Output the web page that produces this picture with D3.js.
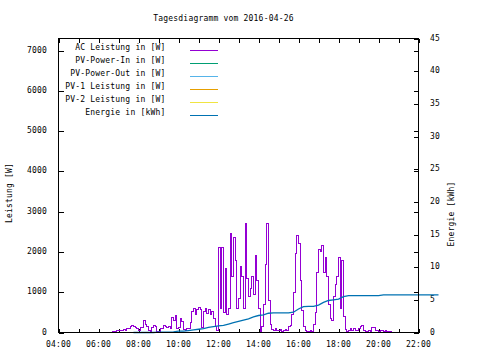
<!DOCTYPE html>
<html>
<head>
<meta charset="utf-8">
<script src="https://cdn.jsdelivr.net/npm/d3@7"></script>
<style>
  body { margin: 0; background: #fff; }
  text { font-family: "DejaVu Sans Mono", monospace; font-size: 8px; letter-spacing: 0.2px; fill: #000; }
</style>
</head>
<body>
<div id="chart"></div>
<script>
// Tagesdiagramm - AC Leistung (5 min) und Energie (15 min)

const title = "Tagesdiagramm vom 2016-04-26";

// AC Leistung in W, alle 5 Minuten ab 06:40
const acStart = "06:40";
const acPower = [
  20, 30, 20, 40,
  50, 40, 60, 70, 60, 100, 110, 160, 170, 150, 120, 110,
  40, 130, 120, 290, 200, 150, 40, 20, 120, 180, 150, 30,
  20, 90, 100, 170, 150, 120, 140, 100, 380, 300, 430, 100,
  120, 350, 280, 80, 60, 110, 90, 240, 520, 600, 450, 580,
  620, 580, 130, 520, 600, 480, 580, 450, 520, 350, 150, 40,
  2100, 600, 2100, 500, 1600, 450, 600, 2450, 1400, 2350, 1800, 600,
  850, 1650, 1400, 600, 2700, 1350, 900, 1100, 1400, 950, 1900, 1300,
  600, 20, 150, 700, 1700, 2700, 800, 200, 80, 60, 100, 50,
  40, 70, 20, 40, 80, 60, 150, 180, 450, 1000, 1950, 2400,
  2200, 1300, 550, 150, 40, 30, 20, 50, 30, 200, 500, 1500,
  2050, 2000, 2150, 1500, 1850, 1400, 700, 350, 300, 900, 1200, 1400,
  1850, 600, 1800, 400, 80, 20, 60, 90, 60, 110, 60, 40,
  100, 160, 180, 60, 30, 20, 40, 30, 130, 120, 40, 50,
  30, 40, 50, 30, 40, 30, 20, 20, 0
];

// Energie in kWh, alle 15 Minuten ab 07:45
const energyStart = "07:45";
const energy = [
  0,
  0, 0, 0, 0,
  0.05, 0.05, 0.05, 0.1,
  0.2, 0.2, 0.3, 0.4,
  0.5, 0.6, 0.8, 0.9,
  1.0, 1.1, 1.3, 1.5,
  1.7, 1.9, 2.1, 2.4,
  2.6, 2.7, 2.95, 3.0,
  3.0, 3.0, 3.0, 3.1,
  3.6, 3.95, 4.0, 4.0,
  4.2, 4.6, 4.9, 5.0,
  5.1, 5.5, 5.65, 5.65,
  5.65, 5.65, 5.65, 5.65,
  5.65, 5.75, 5.75, 5.75,
  5.75, 5.75, 5.75, 5.75,
  5.75, 5.75, 5.75, 5.75,
  5.75
];

const legendLabels = [
  "AC Leistung in [W]",
  "PV-Power-In in [W]",
  "PV-Power-Out in [W]",
  "PV-1 Leistung in [W]",
  "PV-2 Leistung in [W]",
  "Energie in [kWh]"
];
const legendColors = ["#9400d3", "#009e73", "#56b4e9", "#e69f00", "#f0e442", "#0072b2"];

const yTicks = [0, 1000, 2000, 3000, 4000, 5000, 6000, 7000];
const y2Ticks = [0, 5, 10, 15, 20, 25, 30, 35, 40, 45];

const W = 480, H = 360;
const plot = { left: 58.5, right: 418.5, top: 38.5, bottom: 332.5 };

const parse = d3.timeParse("%H:%M");
const t0 = parse("04:00"), t1 = parse("22:00");

function series(start, step, values) {
  const s = parse(start);
  return values.map((v, i) => ({ t: d3.timeMinute.offset(s, i * step), v }));
}

const acData = series(acStart, 5, acPower);
const energyData = series(energyStart, 15, energy);

const x = d3.scaleTime().domain([t0, t1]).range([plot.left, plot.right]);
const y = d3.scaleLinear().domain([0, 7300]).range([plot.bottom, plot.top]);
const y2 = d3.scaleLinear().domain([0, 45]).range([plot.bottom, plot.top]);

const svg = d3.select("#chart").append("svg")
  .attr("width", W).attr("height", H);

svg.append("text")
  .attr("x", 223.5).attr("y", 20.5)
  .attr("text-anchor", "middle")
  .text(title);

// ticks
const hours = d3.timeHour.range(t0, d3.timeHour.offset(t1, 1));
const tickG = svg.append("g").attr("stroke", "#000").attr("shape-rendering", "crispEdges");
hours.forEach(h => {
  const xx = Math.round(x(h)) + 0.5;
  const len = 4;
  tickG.append("line").attr("x1", xx).attr("x2", xx).attr("y1", plot.bottom).attr("y2", plot.bottom - len);
  tickG.append("line").attr("x1", xx).attr("x2", xx).attr("y1", plot.top).attr("y2", plot.top + len);
});
yTicks.forEach(v => {
  const yy = Math.round(y(v)) + 0.5;
  tickG.append("line").attr("x1", plot.left).attr("x2", plot.left + 5).attr("y1", yy).attr("y2", yy);
  tickG.append("line").attr("x1", plot.right).attr("x2", plot.right - 5).attr("y1", yy).attr("y2", yy);
});
y2Ticks.forEach(v => {
  const yy = Math.round(y2(v)) + 0.5;
  tickG.append("line").attr("x1", plot.right).attr("x2", plot.right - 5).attr("y1", yy).attr("y2", yy);
});

// tick labels
svg.append("g").selectAll("text")
  .data(d3.timeHour.every(2).range(t0, d3.timeHour.offset(t1, 1)))
  .join("text")
  .attr("x", d => x(d)).attr("y", 347)
  .attr("text-anchor", "middle")
  .text(d3.timeFormat("%H:%M"));

svg.append("g").selectAll("text")
  .data(yTicks).join("text")
  .attr("x", 47).attr("y", d => y(d) + 2)
  .attr("text-anchor", "end")
  .text(d => d);

svg.append("g").selectAll("text")
  .data(y2Ticks).join("text")
  .attr("x", 430).attr("y", d => y2(d) + 2)
  .text(d => d);

svg.append("text")
  .attr("transform", "translate(11.5,193) rotate(-90)")
  .attr("text-anchor", "middle")
  .text("Leistung [W]");

svg.append("text")
  .attr("transform", "translate(454,214) rotate(-90)")
  .attr("text-anchor", "middle")
  .text("Energie [kWh]");

// lines
svg.append("path")
  .datum(acData)
  .attr("fill", "none")
  .attr("stroke", legendColors[0])
  .attr("stroke-width", 1)
  .attr("shape-rendering", "crispEdges")
  .attr("d", d3.line().x(d => x(d.t)).y(d => y(d.v)).curve(d3.curveStepAfter));

svg.append("path")
  .datum(energyData)
  .attr("fill", "none")
  .attr("stroke", legendColors[5])
  .attr("stroke-width", 1.3)
  .attr("d", d3.line().x(d => x(d.t)).y(d => y2(d.v)));

// legend
const leg = svg.append("g");
legendLabels.forEach((lab, i) => {
  const yy = 49.5 + i * 13.07;
  leg.append("text").attr("x", 165.5).attr("y", yy + 0.5).attr("text-anchor", "end").text(lab);
  leg.append("line")
    .attr("x1", 190).attr("x2", 218)
    .attr("y1", Math.round(yy) + 0.5).attr("y2", Math.round(yy) + 0.5)
    .attr("stroke", legendColors[i]).attr("stroke-width", 1);
});

// border
svg.append("rect")
  .attr("x", plot.left).attr("y", plot.top)
  .attr("width", plot.right - plot.left).attr("height", plot.bottom - plot.top)
  .attr("fill", "none").attr("stroke", "#000")
  .attr("shape-rendering", "crispEdges");
</script>
</body>
</html>
